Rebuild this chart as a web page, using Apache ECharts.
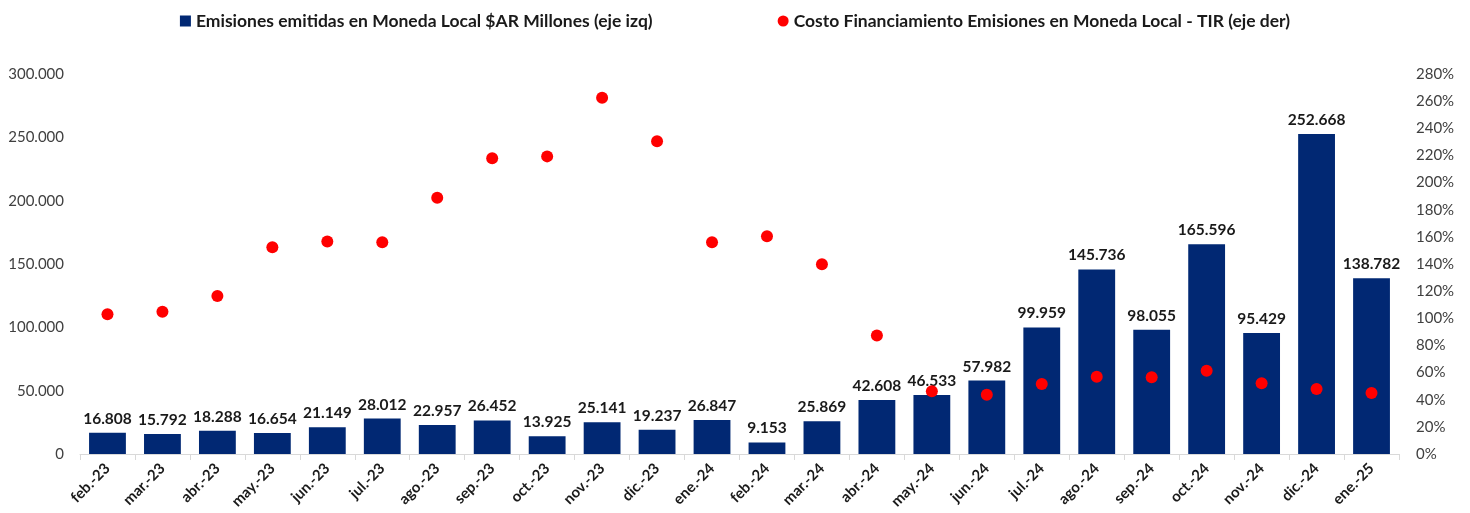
<!DOCTYPE html>
<html>
<head>
<meta charset="utf-8">
<script src="https://cdn.jsdelivr.net/npm/echarts@6/dist/echarts.min.js"></script>
<style>
  html, body { margin: 0; padding: 0; background: #fff; }
  #chart { width: 1470px; height: 513px; }
</style>
</head>
<body>
<div id="chart"></div>
<script>
  var meses = ['feb.-23', 'mar.-23', 'abr.-23', 'may.-23', 'jun.-23', 'jul.-23', 'ago.-23', 'sep.-23',
    'oct.-23', 'nov.-23', 'dic.-23', 'ene.-24', 'feb.-24', 'mar.-24', 'abr.-24', 'may.-24',
    'jun.-24', 'jul.-24', 'ago.-24', 'sep.-24', 'oct.-24', 'nov.-24', 'dic.-24', 'ene.-25']
  var emisiones = [16808, 15792, 18288, 16654, 21149, 28012, 22957, 26452, 13925, 25141, 19237, 26847,
    9153, 25869, 42608, 46533, 57982, 99959, 145736, 98055, 165596, 95429, 252668, 138782]
  var tir = [103, 104.8, 116.4, 152.3, 156.5, 156, 188.9, 218, 219.3, 262.5, 230.4, 156,
    160.4, 139.8, 87.4, 46.2, 43.7, 51.6, 57, 56.5, 61.4, 52.1, 47.9, 44.9]

  var fontFam = 'Lato, "Open Sans", sans-serif'

  function miles (v) {
    return String(Math.round(v)).replace(/\B(?=(\d{3})+(?!\d))/g, '.')
  }

  var chart = echarts.init(document.getElementById('chart'))
  var option = {
    animation: false,
    textStyle: { fontFamily: fontFam },
    legend: {
      top: 7,
      left: 'center',
      itemGap: 125,
      itemWidth: 11,
      itemHeight: 11,
      textStyle: { fontSize: 17.5, fontWeight: 'bold', color: '#1a1a1a', fontFamily: fontFam },
      data: [
        { name: 'Emisiones emitidas en Moneda Local $AR Millones (eje izq)', icon: 'rect' },
        { name: 'Costo Financiamiento Emisiones en Moneda Local - TIR (eje der)', icon: 'circle' }
      ]
    },
    grid: { left: 80, right: 71, top: 74, bottom: 59, containLabel: false },
    xAxis: {
      type: 'category',
      data: meses,
      axisLine: { lineStyle: { color: '#d9d9d9' } },
      axisTick: { show: true, length: 6, lineStyle: { color: '#d9d9d9' } },
      axisLabel: { rotate: 45, fontSize: 15, fontWeight: 'bold', color: '#1a1a1a', margin: 12, interval: 0 }
    },
    yAxis: [
      {
        type: 'value',
        min: 0,
        max: 300000,
        interval: 50000,
        splitLine: { show: false },
        axisLine: { show: false },
        axisTick: { show: false },
        axisLabel: { fontSize: 15, color: '#404040', margin: 16, formatter: miles }
      },
      {
        type: 'value',
        min: 0,
        max: 280,
        interval: 20,
        splitLine: { show: false },
        axisLine: { show: false },
        axisTick: { show: false },
        axisLabel: { fontSize: 15, color: '#404040', margin: 17, formatter: '{value}%' }
      }
    ],
    series: [
      {
        name: 'Emisiones emitidas en Moneda Local $AR Millones (eje izq)',
        type: 'bar',
        data: emisiones,
        barWidth: '67%',
        itemStyle: { color: '#012873' },
        label: {
          show: true,
          position: 'top',
          distance: 6,
          fontSize: 15.5,
          fontWeight: 'bold',
          color: '#1a1a1a',
          formatter: function (p) { return miles(p.value) }
        }
      },
      {
        name: 'Costo Financiamiento Emisiones en Moneda Local - TIR (eje der)',
        type: 'scatter',
        yAxisIndex: 1,
        data: tir,
        symbol: 'circle',
        symbolSize: 12,
        itemStyle: { color: '#ff0000', opacity: 1 },
        z: 5
      }
    ]
  }
  chart.setOption(option)
</script>
</body>
</html>
